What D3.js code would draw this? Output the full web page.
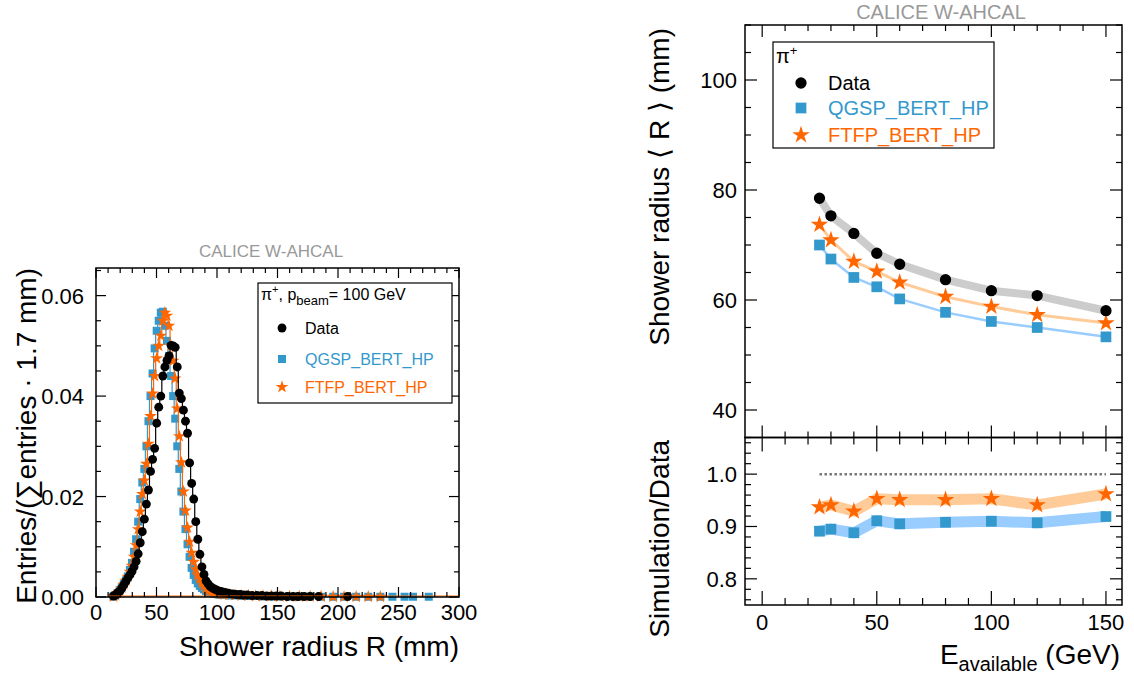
<!DOCTYPE html>
<html><head><meta charset="utf-8">
<script src="https://cdn.jsdelivr.net/npm/d3@7"></script>
<style>body{margin:0;background:#fff}svg{display:block;font-family:"Liberation Sans",Arial,sans-serif}</style>
</head><body>
<script>
// ---------- Left: shower radius distribution (100 GeV) ----------
const histR = [14.45,16.15,17.85,19.55,21.25,22.95,24.65,26.35,28.05,29.75,31.45,33.15,34.85,36.55,38.25,39.95,41.65,43.35,45.05,46.75,48.45,50.15,51.85,53.55,55.25,56.95,58.65,60.35,62.05,63.75,65.45,67.15,68.85,70.55,72.25,73.95,75.65,77.35,79.05,80.75,82.45,84.15,85.85,87.55,89.25,90.95,92.65,94.35,96.05,97.75,99.45,101.15,102.85,104.55];
const histData = [0.0002,0.0004,0.0008,0.0011,0.0017,0.0024,0.0031,0.0038,0.0044,0.0051,0.0060,0.0071,0.0086,0.0108,0.0130,0.0155,0.0185,0.0213,0.0250,0.0274,0.0296,0.0346,0.0378,0.0400,0.0440,0.0458,0.0471,0.0480,0.0501,0.0500,0.0497,0.0458,0.0406,0.0395,0.0372,0.0350,0.0326,0.0267,0.0226,0.0195,0.0150,0.0115,0.0085,0.0060,0.0045,0.0032,0.0026,0.0021,0.0018,0.0016,0.0014,0.0012,0.0011,0.0010];
const histQGSP = [0.0001,0.0004,0.0008,0.0013,0.0019,0.0026,0.0033,0.0041,0.0054,0.0068,0.0090,0.0115,0.0150,0.0195,0.0228,0.0255,0.0300,0.0350,0.0400,0.0445,0.0495,0.0530,0.0550,0.0566,0.0568,0.0540,0.0510,0.0480,0.0440,0.0400,0.0355,0.0300,0.0255,0.0210,0.0170,0.0135,0.0105,0.0080,0.0058,0.0044,0.0034,0.0027,0.0022,0.0018,0.0015,0.0012,0.0010,0.0009,0.0008,0.0007,0.0006,0.0005,0.0005,0.0004];
const histFTFP = [0.0001,0.0004,0.0008,0.0012,0.0018,0.0025,0.0032,0.0040,0.0050,0.0062,0.0080,0.0103,0.0135,0.0170,0.0205,0.0232,0.0265,0.0305,0.0360,0.0405,0.0440,0.0475,0.0500,0.0520,0.0550,0.0566,0.0560,0.0540,0.0500,0.0470,0.0435,0.0375,0.0320,0.0268,0.0210,0.0172,0.0138,0.0110,0.0088,0.0070,0.0055,0.0043,0.0036,0.0028,0.0022,0.0017,0.0014,0.0012,0.0011,0.0010,0.0009,0.0008,0.0007,0.0006];
// sparse tails
const tailDataR = [106.25,108,110,113,116,119,122,125,129,133,137,141,145,149,153,158,163,167,172,177,184,208];
const tailDataV = [0.0009,0.0008,0.0007,0.0006,0.0005,0.0005,0.0004,0.0004,0.0003,0.0003,0.0003,0.0002,0.0002,0.0002,0.0002,0.0001,0.0001,0.0001,0.0001,0.0001,0.0001,0.0001];
const tailQGSPR = [106.25,110,115,120,126,132,138,145,152,160,168,177,186,196,205,215,225,235,245,255,262,275];
const tailQGSPV = [0.0004,0.0003,0.0003,0.0002,0.0002,0.0002,0.0001,0.0001,0.0001,0.0001,0.0001,0.0001,0.00005,0.00005,0.00005,0.00005,0.00005,0.00005,0.00005,0.00005,0.00005,0.00005];
const tailFTFPR = [106.25,110,115,120,126,132,138,145,152,160,168,177,186,196,205,215,225,235];
const tailFTFPV = [0.0005,0.0005,0.0004,0.0003,0.0003,0.0002,0.0002,0.0002,0.0001,0.0001,0.0001,0.0001,0.0001,0.00005,0.00005,0.00005,0.00005,0.00005];

// ---------- Right: mean shower radius vs energy ----------
const energies = [25,30,40,50,60,80,100,120,150];
const radiusData = [78.5,75.3,72.1,68.5,66.5,63.7,61.7,60.8,58.05];
const radiusQGSP = [70.0,67.45,64.1,62.4,60.2,57.75,56.1,55.0,53.3];
const radiusFTFP = [73.7,70.9,67.0,65.2,63.2,60.6,58.8,57.3,55.8];
const ratioQGSP = [0.891,0.895,0.888,0.911,0.905,0.908,0.910,0.907,0.919];
const ratioFTFP = [0.937,0.941,0.929,0.953,0.951,0.951,0.953,0.941,0.962];

const leftXTicks = [0,50,100,150,200,250,300];
const leftYTicks = [0.00,0.02,0.04,0.06];
const rightXTicks = [0,50,100,150];
const upperYTicks = [40,60,80,100];
const lowerYTicks = [0.8,0.9,1.0];

const C = {data:"#000000", qgsp:"#3399cc", ftfp:"#ff6600", dataBand:"#cccccc", qgspBand:"#99ccff", ftfpBand:"#ffcc99", title:"#999999"};
const TICKF = 22, TITLEF = 28;

const svg = d3.select("body").append("svg").attr("width",1134).attr("height",677);

function frameTicks(g, x, y, opt){
  const [x0,x1] = x.range(), [y0,y1] = y.range();
  const L = opt.major, l = opt.minor;
  const add = (a,b,c,d) => g.append("line").attr("x1",a).attr("y1",b).attr("x2",c).attr("y2",d).attr("stroke","#000").attr("stroke-width",1.2);
  if (opt.xMinor) {
    const d = x.domain(), st = opt.xMinor;
    for (let v = Math.ceil(d[0]/st)*st; v <= d[1]+1e-9; v += st) {
      const isMaj = Math.abs(v/opt.xMajor - Math.round(v/opt.xMajor)) < 1e-6;
      const len = isMaj ? (opt.xMajLen||L) : (opt.xMinLen||l);
      const px = x(v);
      add(px,y0,px,y0-len);
      add(px,y1,px,y1+len);
    }
  }
  if (opt.yMinor) {
    const d = y.domain(), st = opt.yMinor;
    for (let v = Math.ceil(d[0]/st-1e-6)*st; v <= d[1]+1e-9; v += st) {
      const isMaj = Math.abs(v/opt.yMajor - Math.round(v/opt.yMajor)) < 1e-6;
      const len = isMaj ? L : l;
      const py = y(v);
      add(x0,py,x0+len,py);
      add(x1,py,x1-len,py);
    }
  }
}

function marker(g, type, cx, cy, size, color){
  const sym = type==="circle"?d3.symbolCircle:type==="square"?d3.symbolSquare:d3.symbolStar;
  g.append("path").attr("d", d3.symbol().type(sym).size(size)()).attr("transform",`translate(${cx},${cy})`).attr("fill",color);
}

// ================= LEFT PANEL =================
const xL = d3.scaleLinear().domain([0,300]).range([96,459]);
const yL = d3.scaleLinear().domain([0,0.0655]).range([597,268]);
const gL = svg.append("g");

const lineL = d3.line().x(d=>xL(d[0])).y(d=>yL(d[1])).curve(d3.curveStep);
const series = [
  {r:histQGSP, tr:tailQGSPR, tv:tailQGSPV, c:C.qgsp, t:"square", s:64},
  {r:histFTFP, tr:tailFTFPR, tv:tailFTFPV, c:C.ftfp, t:"star", s:50},
  {r:histData, tr:tailDataR, tv:tailDataV, c:C.data, t:"circle", s:62}
];
series.forEach(S=>{
  const pts = histR.map((r,i)=>[r,S.r[i]]).concat(S.tr.map((r,i)=>[r,S.tv[i]]));
  gL.append("path").datum(pts.slice(0,histR.length)).attr("d",lineL).attr("fill","none").attr("stroke",S.c).attr("stroke-width",1.2);
  pts.forEach(p=>marker(gL,S.t,xL(p[0]),yL(p[1]),S.s,S.c));
});
gL.append("line").attr("x1",xL(10)).attr("x2",xL(300)).attr("y1",yL(0)-1).attr("y2",yL(0)-1).attr("stroke",C.ftfp).attr("stroke-width",1);

gL.append("rect").attr("x",96).attr("y",268).attr("width",363).attr("height",329).attr("fill","none").attr("stroke","#000").attr("stroke-width",1.5);
frameTicks(gL,xL,yL,{major:10,minor:5,xMinor:10,xMajor:50,yMinor:0.005,yMajor:0.02});

gL.selectAll(".xt").data(leftXTicks).join("text").attr("x",d=>xL(d)).attr("y",620).attr("text-anchor","middle").attr("font-size",TICKF).text(d=>d);
gL.selectAll(".yt").data(leftYTicks).join("text").attr("x",84).attr("y",d=>yL(d)+8).attr("text-anchor","end").attr("font-size",TICKF).text(d=>d.toFixed(2));

gL.append("text").attr("x",459).attr("y",656).attr("text-anchor","end").attr("font-size",TITLEF).text("Shower radius R (mm)");
gL.append("text").attr("transform","translate(36,268) rotate(-90)").attr("text-anchor","end").attr("font-size",TITLEF).text("Entries/(∑entries · 1.7 mm)");
gL.append("text").attr("x",271).attr("y",257).attr("text-anchor","middle").attr("font-size",17).attr("fill",C.title).text("CALICE W-AHCAL");

// legend left
const lgL = gL.append("g");
lgL.append("rect").attr("x",258).attr("y",283).attr("width",194).attr("height",120).attr("fill","#fff").attr("stroke","#000").attr("stroke-width",1.2);
const t0 = lgL.append("text").attr("x",261).attr("y",300).attr("font-size",16);
t0.append("tspan").text("π");
t0.append("tspan").attr("dy",-7).attr("font-size",11).text("+");
t0.append("tspan").attr("dy",7).text(", p");
t0.append("tspan").attr("dy",5).attr("font-size",13).text("beam");
t0.append("tspan").attr("dy",-5).text("= 100 GeV");
[["Data",C.data,"circle",328,62],["QGSP_BERT_HP",C.qgsp,"square",359,64],["FTFP_BERT_HP",C.ftfp,"star",387,50]].forEach(([lab,col,t,yy,s])=>{
  marker(lgL,t,282,yy,s,col);
  lgL.append("text").attr("x",305).attr("y",yy+6).attr("font-size",16).attr("fill",col).text(lab);
});

// ================= RIGHT PANEL =================
const xR = d3.scaleLinear().domain([-7.5,157]).range([745,1122]);
const yU = d3.scaleLinear().domain([35,110]).range([437.5,25]);
const yD = d3.scaleLinear().domain([0.75,1.07]).range([605,437.5]);
const gR = svg.append("g");

const lineU = d3.line().x(d=>xR(d[0])).y(d=>yU(d[1]));
const lineD = d3.line().x(d=>xR(d[0])).y(d=>yD(d[1]));
const zip = (a,b)=>a.map((v,i)=>[v,b[i]]);

gR.append("path").datum(zip(energies,radiusData)).attr("d",lineU).attr("fill","none").attr("stroke",C.dataBand).attr("stroke-width",8).attr("stroke-linejoin","round");
gR.append("path").datum(zip(energies,radiusFTFP)).attr("d",lineU).attr("fill","none").attr("stroke",C.ftfpBand).attr("stroke-width",3);
gR.append("path").datum(zip(energies,radiusQGSP)).attr("d",lineU).attr("fill","none").attr("stroke",C.qgspBand).attr("stroke-width",2.5);
energies.forEach((e,i)=>{
  marker(gR,"square",xR(e),yU(radiusQGSP[i]),115,C.qgsp);
  marker(gR,"star",xR(e),yU(radiusFTFP[i]),95,C.ftfp);
  marker(gR,"circle",xR(e),yU(radiusData[i]),100,C.data);
});

gR.append("line").attr("x1",xR(25)).attr("x2",xR(150)).attr("y1",yD(1)).attr("y2",yD(1)).attr("stroke","#777").attr("stroke-width",2.5).attr("stroke-dasharray","2.5,2.5");
gR.append("path").datum(zip(energies,ratioFTFP)).attr("d",lineD).attr("fill","none").attr("stroke",C.ftfpBand).attr("stroke-width",11).attr("stroke-linejoin","round");
gR.append("path").datum(zip(energies,ratioQGSP)).attr("d",lineD).attr("fill","none").attr("stroke",C.qgspBand).attr("stroke-width",11).attr("stroke-linejoin","round");
energies.forEach((e,i)=>{
  marker(gR,"square",xR(e),yD(ratioQGSP[i]),115,C.qgsp);
  marker(gR,"star",xR(e),yD(ratioFTFP[i]),95,C.ftfp);
});

gR.append("rect").attr("x",745).attr("y",25).attr("width",377).attr("height",412.5).attr("fill","none").attr("stroke","#000").attr("stroke-width",1.5);
gR.append("rect").attr("x",745).attr("y",437.5).attr("width",377).attr("height",167.5).attr("fill","none").attr("stroke","#000").attr("stroke-width",1.5);
frameTicks(gR,xR,yU,{major:12,minor:6,xMinor:10,xMajor:50,yMinor:5,yMajor:20});
frameTicks(gR,xR,yD,{major:12,minor:6,xMinor:10,xMajor:50,yMinor:0.02,yMajor:0.1,xMajLen:14,xMinLen:7});

gR.selectAll(".xt").data(rightXTicks).join("text").attr("x",d=>xR(d)).attr("y",630).attr("text-anchor","middle").attr("font-size",TICKF).text(d=>d);
gR.selectAll(".yu").data(upperYTicks).join("text").attr("x",737).attr("y",d=>yU(d)+8).attr("text-anchor","end").attr("font-size",TICKF).text(d=>d);
gR.selectAll(".yd").data(lowerYTicks).join("text").attr("x",737).attr("y",d=>yD(d)+8).attr("text-anchor","end").attr("font-size",TICKF).text(d=>d.toFixed(1));

const xlab = gR.append("text").attr("x",1120).attr("y",664).attr("text-anchor","end").attr("font-size",TITLEF);
xlab.append("tspan").text("E");
xlab.append("tspan").attr("dy",7).attr("font-size",20).text("available");
xlab.append("tspan").attr("dy",-7).text(" (GeV)");
gR.append("text").attr("transform","translate(669,28) rotate(-90)").attr("text-anchor","end").attr("font-size",TITLEF).text("Shower radius ⟨ R ⟩ (mm)");
gR.append("text").attr("transform","translate(669,440) rotate(-90)").attr("text-anchor","end").attr("font-size",TITLEF).text("Simulation/Data");
gR.append("text").attr("x",941).attr("y",19).attr("text-anchor","middle").attr("font-size",20).attr("fill",C.title).text("CALICE W-AHCAL");

// legend right
const lgR = gR.append("g");
lgR.append("rect").attr("x",773).attr("y",42).attr("width",221).attr("height",106).attr("fill","#fff").attr("stroke","#000").attr("stroke-width",1.2);
const tr0 = lgR.append("text").attr("x",776).attr("y",63).attr("font-size",20);
tr0.append("tspan").text("π");
tr0.append("tspan").attr("dy",-8).attr("font-size",13).text("+");
[["Data",C.data,"circle",83,100],["QGSP_BERT_HP",C.qgsp,"square",108,115],["FTFP_BERT_HP",C.ftfp,"star",135,95]].forEach(([lab,col,t,yy,s])=>{
  marker(lgR,t,801,yy,s,col);
  lgR.append("text").attr("x",828).attr("y",yy+7).attr("font-size",20).attr("fill",col).text(lab);
});
</script>
</body></html>
